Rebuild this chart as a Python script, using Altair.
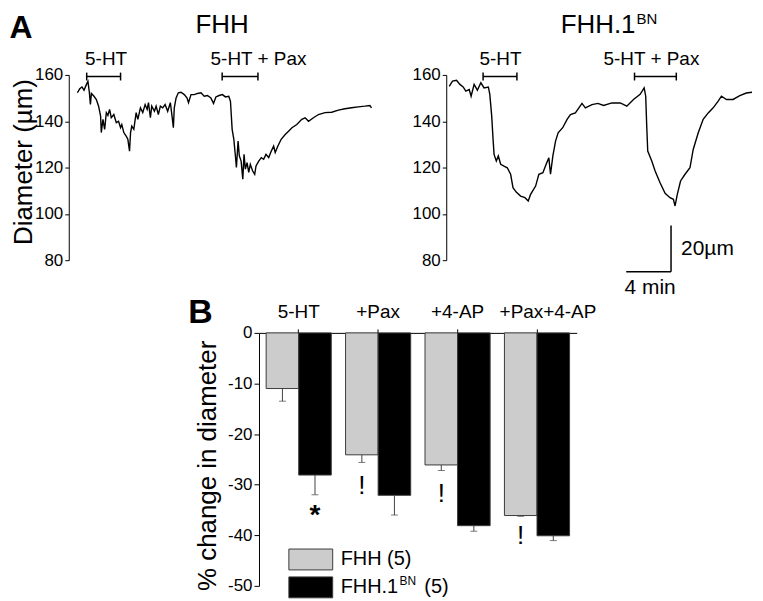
import altair as alt
import pandas as pd

FONT = "Liberation Sans"

# ---------------- Panel A : diameter traces (time in min, diameter in µm) ----------------
fhh_t = [0.77, 0.98, 1.18, 1.36, 1.57, 1.71, 1.84, 1.93, 2.02, 2.25, 2.46, 2.66, 2.84, 2.90, 3.05,
         3.20, 3.35, 3.49, 3.64, 3.79, 4.02, 4.24, 4.44, 4.62, 4.73, 4.91, 5.12, 5.27, 5.42, 5.51,
         5.62, 5.80, 6.01, 6.16, 6.39, 6.60, 6.81, 6.99, 7.11, 7.28, 7.40, 7.64, 7.79, 7.99, 8.17,
         8.38, 8.59, 8.82, 9.06, 9.21, 9.33, 9.41, 9.57, 9.77, 10.01, 10.30, 10.54, 10.68, 10.90,
         11.19, 11.48, 11.79, 12.08, 12.37, 12.67, 12.91, 13.12, 13.41, 13.70, 13.97, 14.27, 14.42,
         14.57, 14.72, 14.86, 14.95, 15.10, 15.21, 15.37, 15.52, 15.63, 15.75, 15.90, 16.05, 16.19,
         16.40, 16.58, 16.70, 16.94, 17.17, 17.38, 17.59, 17.83, 18.06, 18.27, 18.41, 18.65, 18.94,
         19.30, 19.60, 19.90, 20.34, 20.78, 21.08, 21.38, 21.82, 22.27, 22.85, 23.45, 24.04, 24.63,
         25.22, 25.82, 26.41, 26.85, 27.00]
fhh_d = [152.3, 154.0, 154.8, 153.4, 155.8, 157.2, 152.3, 147.2, 152.0, 150.8, 149.4, 146.5, 142.2,
         135.1, 140.8, 136.5, 143.7, 142.5, 145.1, 141.5, 142.9, 139.4, 140.0, 137.2, 138.6, 135.1,
         133.6, 132.2, 127.1, 135.1, 137.9, 136.5, 143.7, 140.8, 145.8, 143.7, 147.2, 145.1, 148.0,
         141.5, 146.5, 144.3, 146.5, 142.9, 146.5, 145.8, 147.2, 144.3, 148.0, 142.2, 137.2, 145.8,
         150.1, 152.3, 152.5, 151.5, 150.1, 148.0, 151.5, 151.5, 152.0, 152.3, 150.8, 151.1, 150.1,
         147.7, 150.5, 151.1, 151.5, 150.5, 150.8, 148.6, 136.5, 132.2, 125.0, 120.0, 131.4, 125.0,
         122.8, 115.0, 125.7, 119.3, 122.1, 117.9, 121.4, 118.5, 117.1, 120.7, 122.8, 124.3, 123.6,
         125.7, 124.3, 127.1, 129.3, 126.5, 129.3, 132.2, 134.3, 135.7, 137.2, 138.6, 140.8, 141.5,
         140.0, 141.5, 142.9, 143.7, 143.9, 144.8, 145.4, 145.8, 146.2, 146.5, 146.8, 145.8]

bn_t = [0.27, 0.56, 0.92, 1.22, 1.51, 1.75, 2.05, 2.22, 2.49, 2.78, 3.09, 3.38, 3.76, 3.89, 4.06,
        4.18, 4.27, 4.47, 4.65, 4.86, 5.16, 5.45, 5.75, 5.96, 6.25, 6.64, 7.03, 7.32, 7.53, 7.98,
        8.27, 8.63, 8.92, 9.16, 9.31, 9.52, 9.76, 9.99, 10.40, 10.79, 11.09, 11.53, 12.12, 12.42,
        13.01, 13.54, 14.05, 14.79, 15.54, 16.12, 16.72, 17.31, 17.67, 17.81, 17.90, 17.99, 18.35,
        18.65, 19.09, 19.54, 19.98, 20.28, 20.43, 20.63, 20.92, 21.32, 21.76, 22.05, 22.50, 22.94,
        23.39, 23.83, 24.28, 24.57, 25.02, 25.61, 26.21, 26.79, 27.30]
bn_d = [155.1, 157.3, 157.7, 155.9, 154.8, 153.0, 153.7, 150.8, 155.9, 153.4, 156.6, 154.4, 154.8,
        151.6, 142.2, 132.2, 125.7, 122.8, 125.0, 121.4, 120.6, 119.9, 117.1, 111.3, 109.4, 107.7,
        107.0, 105.6, 108.4, 112.0, 117.1, 117.8, 121.4, 124.2, 117.1, 125.0, 131.4, 135.0, 137.2,
        140.8, 142.9, 143.6, 147.7, 145.8, 147.2, 147.7, 146.8, 147.9, 147.9, 146.5, 149.4, 151.6,
        154.4, 150.8, 137.9, 127.1, 122.8, 118.5, 113.4, 108.9, 107.0, 106.3, 103.4, 108.4, 114.2,
        117.1, 119.9, 127.8, 135.0, 140.8, 143.6, 145.8, 148.7, 150.8, 149.4, 149.4, 151.1, 152.2,
        152.5]

diam_ticks = [80, 100, 120, 140, 160]
panel_titles = ["FHH", "FHH.1"]
title_sup = ["BN"]
panel_letters = ["A", "B"]

# drug application bars (min)
fhh_bar_start = [1.60, 13.68]
fhh_bar_end = [4.62, 16.87]
fhh_bar_label = ["5-HT", "5-HT + Pax"]
fhh_label_t = [3.33, 16.92]
bn_bar_start = [3.29, 16.81]
bn_bar_end = [6.31, 20.54]
bn_bar_label = ["5-HT", "5-HT + Pax"]
bn_label_t = [4.85, 18.32]

# calibration bar: 4 min x 20 µm
sb_t = [16.07, 20.07]
sb_d = [75, 95]
sb_labels = ["20µm", "4 min"]

# ---------------- Panel B : % change in diameter ----------------
groups = ["5-HT", "+Pax", "+4-AP", "+Pax+4-AP"]
strains = ["FHH", "FHH.1BN"]
fhh_mean = [-11.0, -24.1, -26.1, -36.1]
fhh_sem = [2.5, 1.5, 1.1, 0.15]
bn_mean = [-28.1, -32.1, -38.1, -40.1]
bn_sem = [3.9, 3.9, 1.1, 0.95]
excl_groups = ["+Pax", "+4-AP", "+Pax+4-AP"]
excl_y = [-31.8, -33.5, -41.8]
star_groups = ["5-HT"]
star_y = [-37.8]
legend_main = ["FHH (5)", "FHH.1"]
legend_sup = ["", "BN"]
legend_tail = ["", "(5)"]

# ============ Panel A charts ============
xL = alt.Scale(domain=[0, 27], range=[0, 304])
xR = alt.Scale(domain=[0, 27.3], range=[379, 686])
yA = alt.Scale(domain=[80, 160])

ax_fhh = alt.Axis(orient="left", values=diam_ticks, tickSize=4, labelPadding=2, labelFontSize=17,
                  title="Diameter (µm)", titleFontSize=26, titleFontWeight="normal", titleX=-37.5,
                  titleY=87, titleAngle=270, titleBaseline="alphabetic", titleAlign="center", grid=False)
ax_bn = alt.Axis(orient="left", offset=-379, values=diam_ticks, tickSize=4, labelPadding=2,
                 labelFontSize=17, title=None, grid=False)


def trace_panel(t, d, xs, axis, starts, ends, labels, label_t):
    tr = alt.Chart(pd.DataFrame({"t": t, "d": d})).mark_line(color="black", strokeWidth=1.4).encode(
        x=alt.X("t:Q", scale=xs, axis=None), y=alt.Y("d:Q", scale=yA, axis=axis))
    bdf = pd.DataFrame({"start": starts, "end": ends, "label": labels, "lt": label_t})
    bar = alt.Chart(bdf).mark_rule(color="black", strokeWidth=1.6).encode(
        x=alt.X("start:Q", scale=xs, axis=None), x2="end:Q", y=alt.YDatum(159.3, scale=yA))
    cdf = pd.DataFrame({"c": starts + ends})
    caps = alt.Chart(cdf).mark_rule(color="black", strokeWidth=1.5).encode(
        x=alt.X("c:Q", scale=xs, axis=None), y=alt.YDatum(157.6, scale=yA), y2=alt.datum(161.0))
    lab = alt.Chart(bdf).mark_text(fontSize=19, baseline="alphabetic", align="center").encode(
        x=alt.X("lt:Q", scale=xs, axis=None), y=alt.YDatum(164.2, scale=yA), text="label:N")
    return [tr, bar, caps, lab]


tl_layers = trace_panel(fhh_t, fhh_d, xL, ax_fhh, fhh_bar_start, fhh_bar_end, fhh_bar_label, fhh_label_t)
tr_layers = trace_panel(bn_t, bn_d, xR, ax_bn, bn_bar_start, bn_bar_end, bn_bar_label, bn_label_t)

# invisible frame corner so that the full glyph boxes of the edge texts stay inside the page
frame = alt.Chart(pd.DataFrame({"k": [0]})).mark_rule(opacity=0, strokeWidth=1).encode(
    x=alt.value(-61), x2=alt.value(-50), y=alt.value(-66))

letterA = alt.Chart(pd.DataFrame({"s": [panel_letters[0]]})).mark_text(
    fontSize=32, fontWeight="bold", align="left", baseline="alphabetic").encode(
    x=alt.value(-59.5), y=alt.value(-37), text="s:N")
title_fhh = alt.Chart(pd.DataFrame({"s": [panel_titles[0]]})).mark_text(
    fontSize=26, align="center", baseline="alphabetic").encode(
    x=alt.value(154), y=alt.value(-42.5), text="s:N")
title_bn = alt.Chart(pd.DataFrame({"s": [panel_titles[1]]})).mark_text(
    fontSize=26, align="right", baseline="alphabetic").encode(
    x=alt.value(569), y=alt.value(-42.5), text="s:N")
title_bn_sup = alt.Chart(pd.DataFrame({"s": title_sup})).mark_text(
    fontSize=15, align="left", baseline="alphabetic").encode(
    x=alt.value(570), y=alt.value(-51), text="s:N")

# calibration bar (in FHH.1BN panel)
sb_df = pd.DataFrame({"t0": [sb_t[0]], "t1": [sb_t[1]], "d0": [sb_d[0]], "d1": [sb_d[1]]})
sb_v = alt.Chart(sb_df).mark_rule(color="black", strokeWidth=1.5).encode(
    x=alt.X("t1:Q", scale=xR, axis=None), y=alt.Y("d0:Q", scale=yA), y2="d1:Q")
sb_h = alt.Chart(sb_df).mark_rule(color="black", strokeWidth=1.5).encode(
    x=alt.X("t0:Q", scale=xR, axis=None), x2="t1:Q", y=alt.Y("d0:Q", scale=yA))
sb_txt1 = alt.Chart(pd.DataFrame({"s": [sb_labels[0]], "t": [20.97], "d": [84.8]})).mark_text(
    fontSize=21, align="left", baseline="middle").encode(
    x=alt.X("t:Q", scale=xR, axis=None), y=alt.Y("d:Q", scale=yA), text="s:N")
sb_txt2 = alt.Chart(pd.DataFrame({"s": [sb_labels[1]], "t": [18.2], "d": [65.5]})).mark_text(
    fontSize=21, align="center", baseline="alphabetic").encode(
    x=alt.X("t:Q", scale=xR, axis=None), y=alt.Y("d:Q", scale=yA), text="s:N")

tl = alt.layer(*tl_layers, frame, letterA, title_fhh)
tr = alt.layer(*tr_layers, sb_v, sb_h, sb_txt1, sb_txt2, title_bn, title_bn_sup)
top = alt.layer(tl, tr).resolve_scale(x="independent", y="independent").properties(width=687, height=186)

# ============ Panel B chart ============
bar_df = pd.DataFrame({
    "group": groups * 2,
    "strain": [strains[0]] * 4 + [strains[1]] * 4,
    "value": fhh_mean + bn_mean,
    "sem": fhh_sem + bn_sem,
})
bar_df["low"] = bar_df["value"] - bar_df["sem"]

xB = alt.Scale(domain=groups, range=[191, 510], paddingInner=0.18, paddingOuter=0.09)
xOff = alt.Scale(domain=strains, paddingInner=0, paddingOuter=0)
yB = alt.Scale(domain=[-50, 0])
colB = alt.Color("strain:N", scale=alt.Scale(domain=strains, range=["#cccccc", "#000000"]), legend=None)

axBx = alt.Axis(orient="top", title=None, labelAngle=0, labelFontSize=19, tickSize=4, labelPadding=7,
                labelOffset={"condition": {"test": "datum.value === '+Pax+4-AP'", "value": 11}, "value": 0},
                grid=False)
axBy = alt.Axis(orient="left", offset=-191, values=list(range(-50, 1, 5)),
                labelExpr="datum.value % 10 === 0 ? '' + datum.value : ''",
                tickSize={"condition": {"test": "datum.value % 10 === 0", "value": 5}, "value": 3},
                labelPadding=2, labelFontSize=17, title="% change in diameter", titleFontSize=26,
                titleFontWeight="normal", titleX=-44, titleY=133, titleAngle=270,
                titleBaseline="alphabetic", titleAlign="center", grid=False)

xenc = alt.X("group:N", scale=xB, sort=groups, axis=axBx)
xenc_n = alt.X("group:N", scale=xB, sort=groups)
xoff = alt.XOffset("strain:N", scale=xOff, sort=strains)

bars = alt.Chart(bar_df).mark_bar(stroke="#3a3a3a", strokeWidth=1).encode(
    x=xenc, xOffset=xoff, y=alt.Y("value:Q", scale=yB, axis=axBy), color=colB)
err = alt.Chart(bar_df).mark_rule(color="#444444", strokeWidth=1).encode(
    x=xenc_n, xOffset=xoff, y=alt.Y("value:Q", scale=yB), y2="low:Q")
caps = alt.Chart(bar_df).mark_tick(color="#444444", thickness=1, size=7).encode(
    x=xenc_n, xOffset=xoff, y=alt.Y("low:Q", scale=yB))

excl_df = pd.DataFrame({"group": excl_groups, "strain": [strains[0]] * 3, "y": excl_y, "s": ["!"] * 3})
excl = alt.Chart(excl_df).mark_text(fontSize=26, baseline="alphabetic").encode(
    x=xenc_n, xOffset=xoff, y=alt.Y("y:Q", scale=yB), text="s:N")
star_df = pd.DataFrame({"group": star_groups, "strain": [strains[1]], "y": star_y, "s": ["*"]})
star = alt.Chart(star_df).mark_text(fontSize=28, fontWeight="bold", baseline="alphabetic").encode(
    x=xenc_n, xOffset=xoff, y=alt.Y("y:Q", scale=yB), text="s:N")

letterB = alt.Chart(pd.DataFrame({"s": [panel_letters[1]]})).mark_text(
    fontSize=34, fontWeight="bold", align="left", baseline="alphabetic").encode(
    x=alt.value(120), y=alt.value(-10), text="s:N")

lg_df = pd.DataFrame({"strain": strains, "main": legend_main, "sup": legend_sup, "tail": legend_tail})
ylg = alt.Scale(domain=strains, range=[217, 266], paddingInner=0.25, paddingOuter=0)
lg_y = alt.Y("strain:N", scale=ylg, axis=None, sort=strains)
lg_rect = alt.Chart(lg_df).mark_rect(stroke="#3a3a3a", strokeWidth=1).encode(
    x=alt.value(221), x2=alt.value(265), y=lg_y, color=colB)
lg_main = alt.Chart(lg_df).mark_text(fontSize=20, align="left", baseline="middle").encode(
    x=alt.value(273), y=lg_y, text="main:N")
lg_sup = alt.Chart(lg_df).mark_text(fontSize=12, align="left", baseline="alphabetic", dy=-2).encode(
    x=alt.value(332), y=lg_y, text="sup:N")
lg_tail = alt.Chart(lg_df).mark_text(fontSize=20, align="left", baseline="middle").encode(
    x=alt.value(357), y=lg_y, text="tail:N")

b_main = alt.layer(bars, err, caps, excl, star, letterB)
b_leg = alt.layer(lg_rect, lg_main, lg_sup, lg_tail)
bottom = alt.layer(b_main, b_leg).resolve_scale(y="independent").properties(width=687, height=254)

chart = alt.vconcat(top, bottom, spacing=73, bounds="flush").properties(padding=0).configure(
    font=FONT).configure_view(stroke=None).configure_axis(
    domainColor="black", tickColor="black", labelColor="black", titleColor="black",
    domainWidth=1, tickWidth=1, labelFont=FONT, titleFont=FONT)

chart.save("out.html", embed_options={"renderer": "svg", "actions": False})
